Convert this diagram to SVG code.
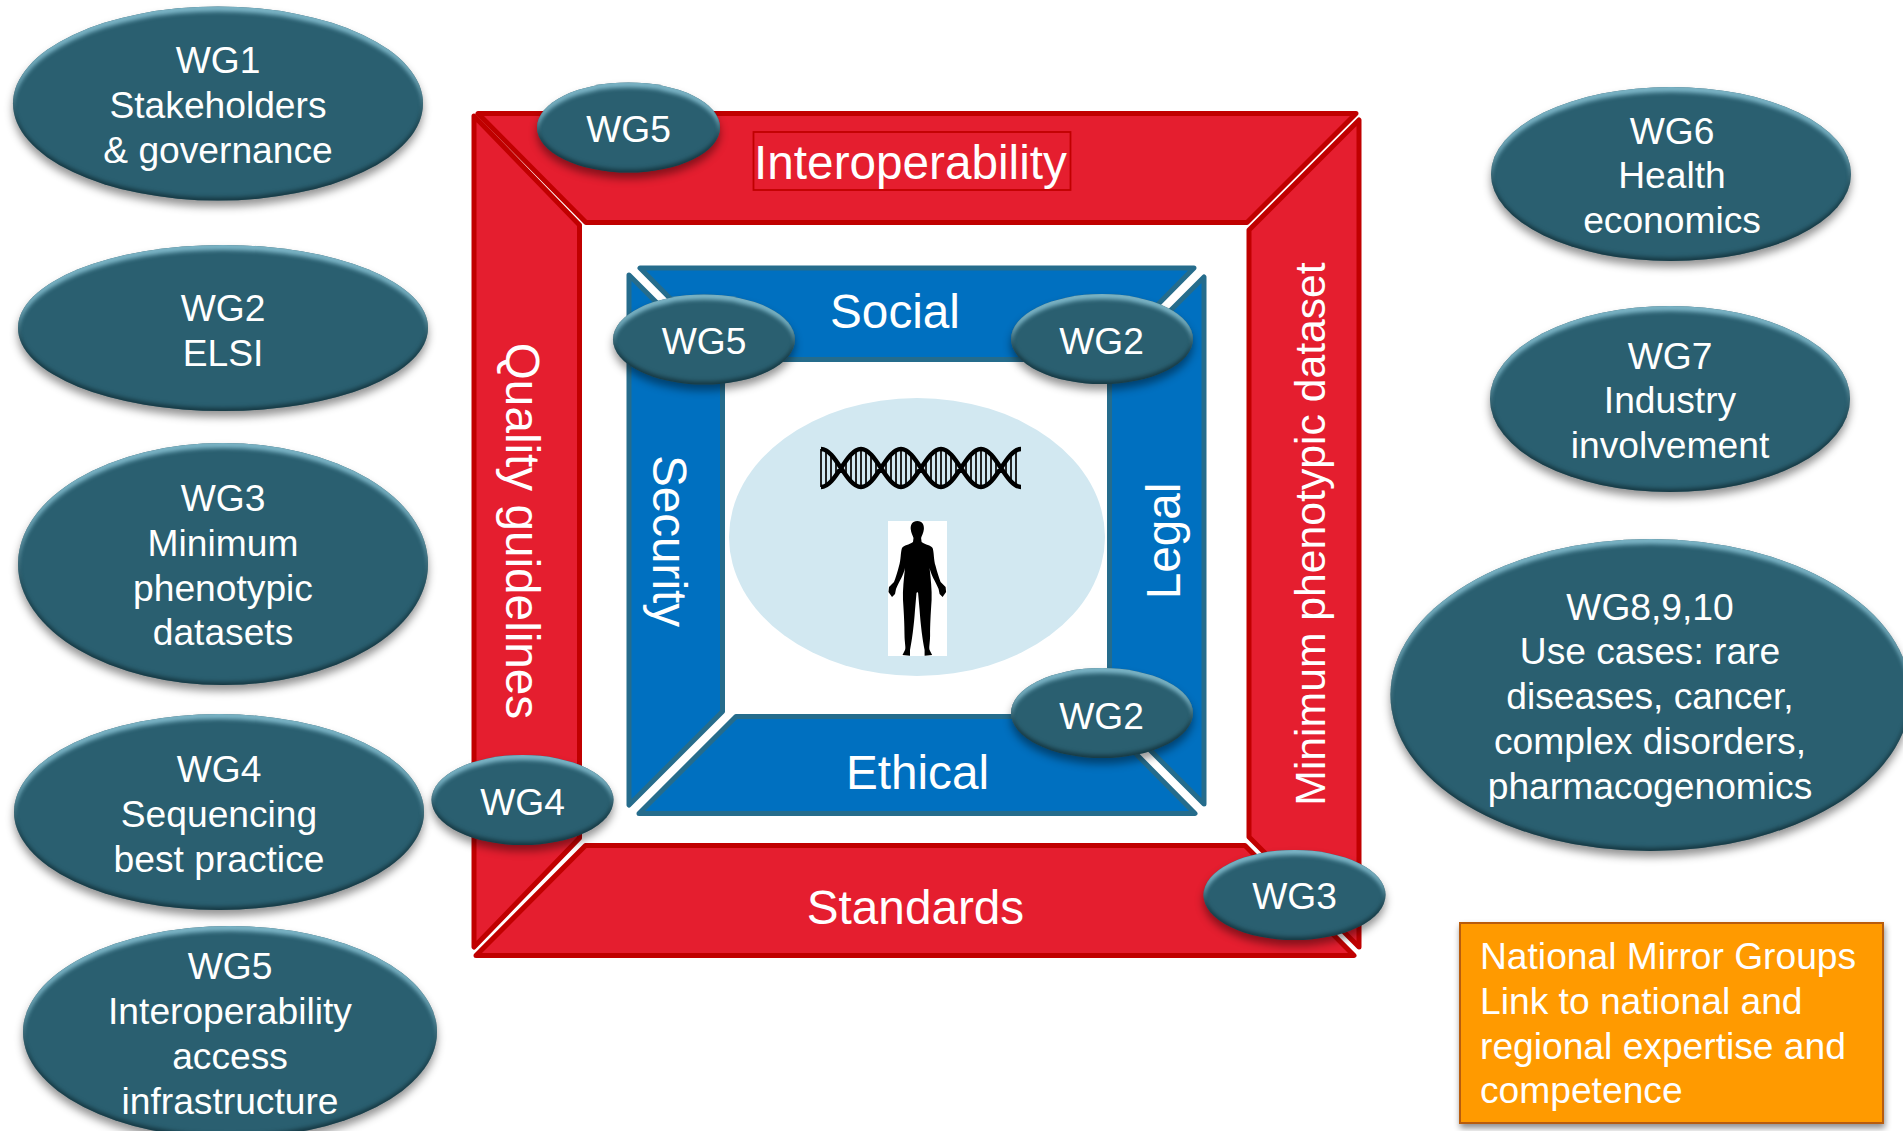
<svg xmlns="http://www.w3.org/2000/svg" xmlns:xlink="http://www.w3.org/1999/xlink" width="1903" height="1131" viewBox="0 0 1903 1131">
<style>
text{font-family:"Liberation Sans",Arial,sans-serif;fill:#fff;}
.n text{font-size:37.2px;text-anchor:middle;}
.big{font-size:47.7px;text-anchor:middle;}
.red{fill:#e51e2f;stroke:#c00000;stroke-width:5;stroke-linejoin:round;}
.blue{fill:#0070c0;stroke:#256c8c;stroke-width:5;stroke-linejoin:round;}
.oval{fill:#2a5f70;filter:url(#bevel);}
</style>
<defs>
<filter id="bevel" x="-10%" y="-15%" width="120%" height="135%" color-interpolation-filters="sRGB">
<feGaussianBlur in="SourceAlpha" stdDeviation="2.2" result="b"/>
<feOffset in="b" dy="5" result="o1"/>
<feFlood flood-color="#86c0d2" flood-opacity=".9"/>
<feComposite operator="out" in2="o1" result="lt"/>
<feComposite in="lt" in2="SourceAlpha" operator="in" result="light"/>
<feOffset in="b" dy="-3" result="o2"/>
<feFlood flood-color="#0f2a33" flood-opacity=".75"/>
<feComposite operator="out" in2="o2" result="dk"/>
<feComposite in="dk" in2="SourceAlpha" operator="in" result="dark"/>
<feGaussianBlur in="SourceAlpha" stdDeviation="4" result="s"/>
<feOffset in="s" dy="6" result="so"/>
<feFlood flood-color="#000" flood-opacity=".42"/>
<feComposite in2="so" operator="in" result="shadow"/>
<feMerge><feMergeNode in="shadow"/><feMergeNode in="SourceGraphic"/><feMergeNode in="light"/><feMergeNode in="dark"/></feMerge>
</filter>
<filter id="drop" x="-5%" y="-5%" width="110%" height="115%">
<feDropShadow dx="1" dy="4" stdDeviation="3" flood-color="#000" flood-opacity=".45"/>
</filter>
<path id="rungs" d="M820 449V487M825 450.500V485.500M830 454.500V481.500M835 460.700V475.300M845 460.700V475.300M850 454.500V481.500M855 450.500V485.500" fill="none" stroke="#222" stroke-width="2"/>
</defs>

<g id="outer-frame">
<polygon class="red" points="478,113.500 1356,113.500 1247,222.500 586,222.500"/>
<polygon class="red" points="1359,120 1359,947 1249,837 1249,230"/>
<polygon class="red" points="476,955.500 585.500,845.500 1245,845.500 1354,955.500"/>
<polygon class="red" points="474,116 579.500,225 579.500,838 474,947"/>
<rect x="753.500" y="132" width="317" height="58" fill="none" stroke="#c00000" stroke-width="1.800"/>
<text class="big" x="910.500" y="179">Interoperability</text>
<text class="big" x="915.500" y="924">Standards</text>
<text class="big" transform="translate(506 531) rotate(90)">Quality guidelines</text>
<text class="big" style="font-size:42.700px" transform="translate(1325 534) rotate(-90)">Minimum phenotypic dataset</text>
</g>

<g id="inner-frame">
<polygon class="blue" points="640,268 1194,268 1103.500,359.500 730.500,359.500"/>
<polygon class="blue" points="629,275 722.500,368.500 722.500,711.500 629,805"/>
<polygon class="blue" points="639,813.500 736,716.500 1099,716.500 1195,813.500"/>
<polygon class="blue" points="1204,277 1204,804 1109.500,709.500 1109.500,371.500"/>
<text class="big" x="895" y="328">Social</text>
<text class="big" x="917.500" y="789">Ethical</text>
<text class="big" transform="translate(652.500 541) rotate(90)">Security</text>
<text class="big" transform="translate(1180 541) rotate(-90)">Legal</text>
</g>

<g id="core">
<ellipse cx="917" cy="537" rx="188" ry="139" fill="#d2e8f1"/>
<g id="dna">
<use xlink:href="#rungs" href="#rungs" x="1"/>
<use xlink:href="#rungs" href="#rungs" x="41"/>
<use xlink:href="#rungs" href="#rungs" x="81"/>
<use xlink:href="#rungs" href="#rungs" x="121"/>
<use xlink:href="#rungs" href="#rungs" x="161"/>
<path d="M821 449C836 449 846 487 861 487S886 449 901 449S926 487 941 487S966 449 981 449S1006 487 1021 487M821 487C836 487 846 449 861 449S886 487 901 487S926 449 941 449S966 487 981 487S1006 449 1021 449" fill="none" stroke="#000" stroke-width="4.500"/>
</g>
<g id="person">
<rect x="888" y="521" width="59" height="135" fill="#fff"/>
<path d="M917.300 521C912 521 910.500 525 910.700 529C911 533 913 536 913.500 538L913 542C909 545 904 545 902 548C900.500 552 901 560 899 566C897.500 572 895.500 578 894 582L889 587L888.500 592L892 597L895 594L896 589C899 582 904 574 905 568C904 578 902.500 590 903 600C904 615 904.500 625 904.500 635C904.500 642 906 648 905 650L902.500 655L910 655.700L910 650C912 640 914 625 915 610L916.500 593L917.300 592L918.100 593L919.600 610C920.600 625 922.600 640 924.600 650L924.600 655.700L932.100 655L929.600 650C928.600 648 930.100 642 930.100 635C930.100 625 930.600 615 931.600 600C932.100 590 930.600 578 929.600 568C930.600 574 935.600 582 938.600 589L939.600 594L942.600 597L946.100 592L945.600 587L940.600 582C939.100 578 937.100 572 935.600 566C933.600 560 934.100 552 932.600 548C930.600 545 925.600 545 921.600 542L921.100 538C921.600 536 923.600 533 923.900 529C924.100 525 922.600 521 917.300 521Z" fill="#000"/>
</g>
</g>

<g id="connectors"></g>

<g id="wg1" class="n"><ellipse class="oval" cx="218" cy="103.500" rx="205" ry="97"/><text x="218" y="73">WG1</text><text x="218" y="118">Stakeholders</text><text x="218" y="163">&amp; governance</text></g>
<g id="wg2" class="n"><ellipse class="oval" cx="223" cy="328" rx="205" ry="83"/><text x="223" y="321">WG2</text><text x="223" y="366">ELSI</text></g>
<g id="wg3" class="n"><ellipse class="oval" cx="223" cy="564" rx="205" ry="121"/><text x="223" y="511">WG3</text><text x="223" y="556">Minimum</text><text x="223" y="601">phenotypic</text><text x="223" y="645">datasets</text></g>
<g id="wg4" class="n"><ellipse class="oval" cx="219" cy="812" rx="205" ry="98"/><text x="219" y="782">WG4</text><text x="219" y="827">Sequencing</text><text x="219" y="872">best practice</text></g>
<g id="wg5" class="n"><ellipse class="oval" cx="230" cy="1032" rx="207" ry="106"/><text x="230" y="979">WG5</text><text x="230" y="1024">Interoperability</text><text x="230" y="1069">access</text><text x="230" y="1114">infrastructure</text></g>
<g id="wg6" class="n"><ellipse class="oval" cx="1671" cy="174" rx="180" ry="87"/><text x="1672" y="144">WG6</text><text x="1672" y="188">Health</text><text x="1672" y="233">economics</text></g>
<g id="wg7" class="n"><ellipse class="oval" cx="1670" cy="399" rx="180" ry="93"/><text x="1670" y="369">WG7</text><text x="1670" y="413">Industry</text><text x="1670" y="458">involvement</text></g>
<g id="wg8" class="n"><ellipse class="oval" cx="1650.500" cy="695" rx="260" ry="156"/><text x="1650" y="620">WG8,9,10</text><text x="1650" y="664">Use cases: rare</text><text x="1650" y="709">diseases, cancer,</text><text x="1650" y="754">complex disorders,</text><text x="1650" y="799">pharmacogenomics</text></g>

<g id="tag-wg5-outer" class="n"><ellipse class="oval" cx="628.500" cy="127.500" rx="91.500" ry="45"/><text x="628.500" y="142">WG5</text></g>
<g id="tag-wg5-inner" class="n"><ellipse class="oval" cx="704" cy="339.500" rx="91" ry="45"/><text x="704" y="354">WG5</text></g>
<g id="tag-wg2-top" class="n"><ellipse class="oval" cx="1102" cy="339" rx="91" ry="45"/><text x="1101.500" y="354">WG2</text></g>
<g id="tag-wg2-bottom" class="n"><ellipse class="oval" cx="1102" cy="713" rx="91" ry="45"/><text x="1101.500" y="729">WG2</text></g>
<g id="tag-wg3" class="n"><ellipse class="oval" cx="1294.500" cy="895" rx="91" ry="45"/><text x="1294.500" y="909">WG3</text></g>
<g id="tag-wg4" class="n"><ellipse class="oval" cx="522.500" cy="800" rx="91" ry="45"/><text x="522.500" y="815">WG4</text></g>

<g id="mirror-groups">
<rect x="1460" y="923" width="423" height="200" fill="#ff9a00" stroke="#b85c10" stroke-width="2" filter="url(#drop)"/>
<text x="1480" y="969" font-size="37.200">National Mirror Groups</text>
<text x="1480" y="1014" font-size="37.200">Link to national and</text>
<text x="1480" y="1059" font-size="37.200">regional expertise and</text>
<text x="1480" y="1103" font-size="37.200">competence</text>
</g>
</svg>
